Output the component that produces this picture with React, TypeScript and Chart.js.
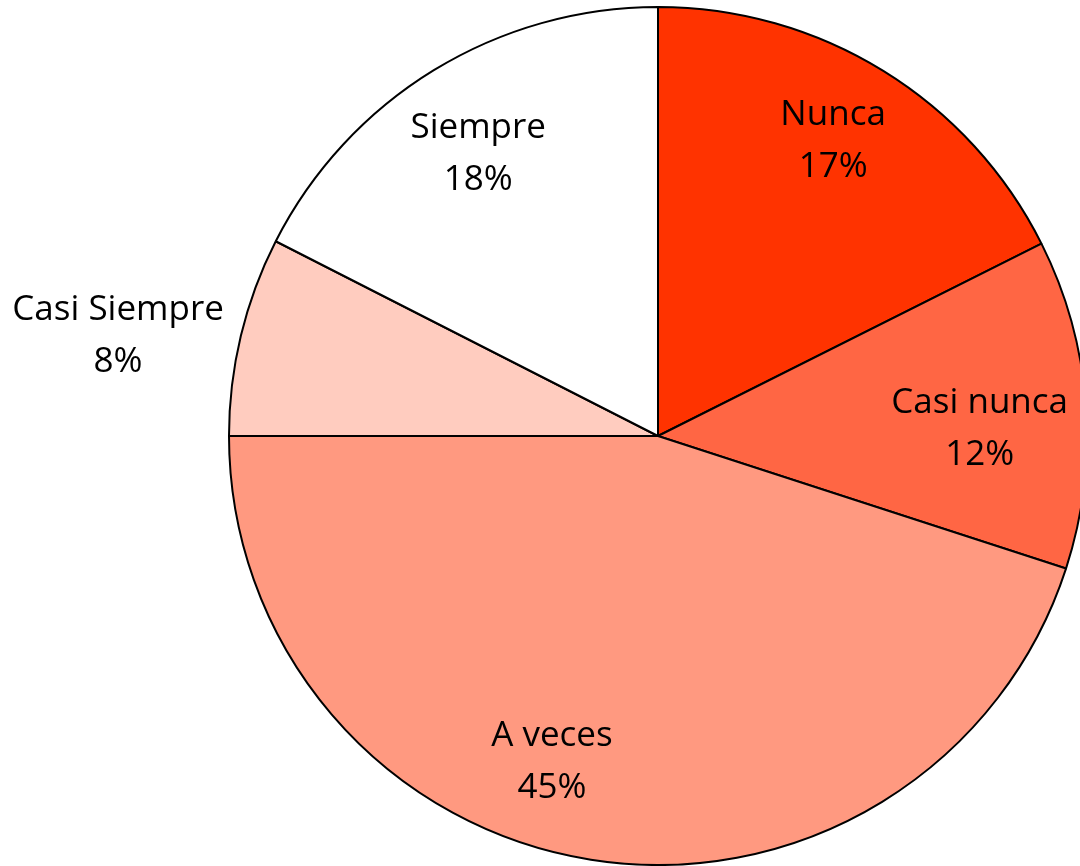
import React, { useEffect, useRef } from "react";
import { Chart, registerables } from "chart.js";

Chart.register(...registerables);

const categories = ["Nunca", "Casi nunca", "A veces", "Casi Siempre", "Siempre"];
const values = [17.6, 12.4, 45.0, 7.5, 17.5];
const percentLabels = ["17%", "12%", "45%", "8%", "18%"];
const colors = ["#FF3300", "#FF6644", "#FF9980", "#FFCCBF", "#FFFFFF"];

// label placement: fraction of radius and angle tweak (degrees)
const labelRadius = [0.8, 0.75, 0.8, 1.28, 0.78];
const labelAngleShift = [-1, 3, 9, -3, -1];

const labelPlugin = {
  id: "sliceLabels",
  afterDatasetsDraw(chart: any) {
    const ctx = chart.ctx;
    const meta = chart.getDatasetMeta(0);
    ctx.save();
    ctx.font = "35px 'Open Sans', Lato, sans-serif";
    ctx.fillStyle = "#000000";
    ctx.textAlign = "center";
    ctx.textBaseline = "middle";
    meta.data.forEach((arc: any, i: number) => {
      const { x, y, startAngle, endAngle, outerRadius } = arc.getProps(
        ["x", "y", "startAngle", "endAngle", "outerRadius"],
        true
      );
      const mid = (startAngle + endAngle) / 2 + (labelAngleShift[i] * Math.PI) / 180;
      const r = outerRadius * labelRadius[i];
      const cx = x + Math.cos(mid) * r;
      const cy = y + Math.sin(mid) * r;
      ctx.fillText(categories[i], cx, cy - 26);
      ctx.fillText(percentLabels[i], cx, cy + 26);
    });
    ctx.restore();
  },
};

export default function App() {
  const ref = useRef<HTMLCanvasElement>(null);
  useEffect(() => {
    if (!ref.current) return;
    const chart = new Chart(ref.current, {
      type: "pie",
      data: {
        labels: categories,
        datasets: [
          {
            data: values,
            backgroundColor: colors,
            borderColor: "#000000",
            borderWidth: 2,
            borderAlign: "center",
          },
        ],
      },
      options: {
        responsive: false,
        animation: false,
        devicePixelRatio: 1,
        layout: { padding: { top: 6, bottom: 0, left: 0, right: 0 } },
        plugins: {
          legend: { display: false },
          tooltip: { enabled: false },
        },
      },
      plugins: [labelPlugin],
    });
    return () => chart.destroy();
  }, []);
  return (
    <div
      style={{
        position: "fixed",
        left: 0,
        top: 0,
        width: 1080,
        height: 866,
        overflow: "hidden",
        background: "#ffffff",
      }}
    >
      <canvas ref={ref} width={1316} height={866} style={{ display: "block" }} />
    </div>
  );
}
